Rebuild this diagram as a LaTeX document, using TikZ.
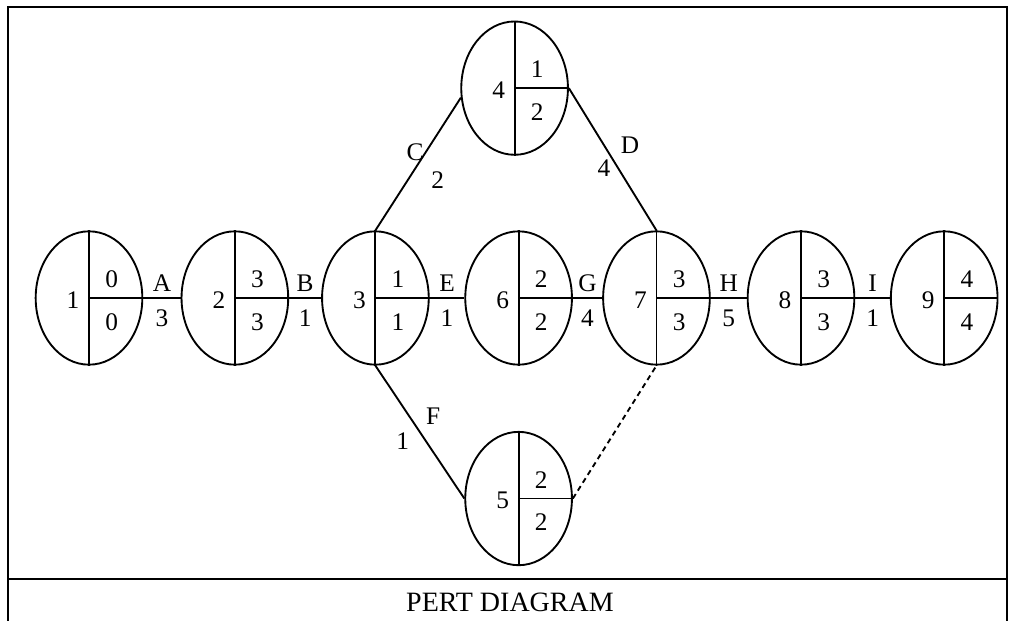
\documentclass[tikz,border=0pt]{standalone}
\usepackage{fontspec}
\setmainfont{Liberation Serif}
\usetikzlibrary{positioning,shapes.geometric}

\begin{document}
\begin{tikzpicture}[
  x=0.75pt, y=-0.75pt,
  font=\fontsize{19}{21}\selectfont,
  line width=1.4pt,
  evt/.style={draw, ellipse, minimum width=80pt, minimum height=100pt,
              inner sep=0pt},
  num/.style={inner sep=0pt},
  lbl/.style={inner sep=1pt}
]
  \useasboundingbox (0,0) rectangle (1015,621);
  \draw (8,621) -- (8,7) -- (1007,7) -- (1007,621);
  \draw (8,579) -- (1007,579);
  \node (title) at (510,602) {\fontsize{21}{24}\selectfont PERT DIAGRAM};

  \node[evt] (e1) at (89,298) {};
  \node[evt, right=28pt of e1] (e2) {};
  \node[evt, right=24pt of e2] (e3) {};
  \node[evt, right=26pt of e3] (e6) {};
  \node[evt, right=22pt of e6] (e7) {};
  \node[evt, right=27pt of e7] (e8) {};
  \node[evt, right=26pt of e8] (e9) {};
  \node[evt, above=56pt of e6, xshift=-3pt] (e4) {};
  \node[evt, below=49pt of e6] (e5) {};

  \foreach \n/\ev/\es/\lf in {e1/1/0/0, e2/2/3/3, e3/3/1/1, e4/4/1/2,
      e5/5/2/2, e6/6/2/2, e7/7/3/3, e8/8/3/3, e9/9/4/4}{
    \draw (\n.north) -- (\n.south) (\n.center) -- (\n.east);
    \node[num] (\n-id) at ([xshift=-12pt,yshift=-1.5pt]\n.center) {\ev};
    \node[num] (\n-es) at ([xshift=17pt,yshift=14pt]\n.center) {\es};
    \node[num] (\n-lf) at ([xshift=17pt,yshift=-18pt]\n.center) {\lf};
  }

  \draw (e1) -- node[lbl, above=3pt] (a-nm) {A} node[lbl, below=7pt] (a-du) {3} (e2);
  \draw (e2) -- node[lbl, above=3pt] (b-nm) {B} node[lbl, below=7pt] (b-du) {1} (e3);
  \draw (e3) -- node[lbl, above=3pt] (e-nm) {E} node[lbl, below=7pt] (e-du) {1} (e6);
  \draw (e6) -- node[lbl, above=3pt] (g-nm) {G} node[lbl, below=7pt] (g-du) {4} (e7);
  \draw (e7) -- node[lbl, above=3pt] (h-nm) {H} node[lbl, below=7pt] (h-du) {5} (e8);
  \draw (e8) -- node[lbl, above=3pt] (i-nm) {I} node[lbl, below=7pt] (i-du) {1} (e9);
  \draw (e3.north) -- node[lbl, pos=0.59, left=0pt] (c-nm) {C}
    node[lbl, pos=0.38, right=16pt] (c-du) {2} (e4.190);
  \draw (e4.east) -- node[lbl, pos=0.40, right=11pt] (d-nm) {D}
    node[lbl, pos=0.56, left=4pt] (d-du) {4} (e7.north);
  \draw (e3.south) -- node[lbl, pos=0.38, right=11pt] (f-nm) {F}
    node[lbl, pos=0.57, left=11pt] (f-du) {1} (e5.west);
  \draw[dash pattern=on 4pt off 3pt] (e5.east) -- (e7.south);
\end{tikzpicture}
\end{document}
